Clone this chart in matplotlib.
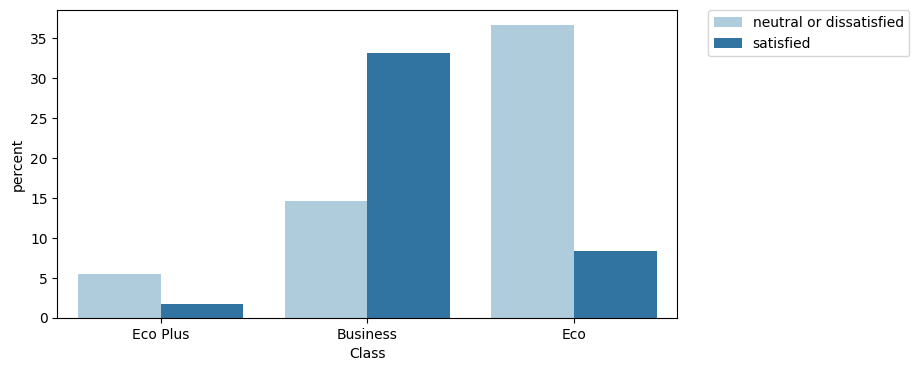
import pandas as pd
import matplotlib
matplotlib.use("Agg")
import matplotlib.pyplot as plt
import seaborn as sns

classes = ["Eco Plus", "Business", "Eco"]
neutral = [5.49, 14.59, 36.66]
satisfied = [1.75, 33.17, 8.35]

df = pd.DataFrame({
    "Class": classes * 2,
    "percent": neutral + satisfied,
    "satisfaction": ["neutral or dissatisfied"] * 3 + ["satisfied"] * 3,
})

fig = plt.figure(figsize=(9.19, 3.71), dpi=100)
ax = fig.add_axes([0.0624, 0.1429, 0.6746, 0.829])
sns.barplot(data=df, x="Class", y="percent", hue="satisfaction",
            order=classes, palette="Paired", ax=ax)
ax.set_xlabel("Class")
ax.set_ylabel("percent")
ax.legend(bbox_to_anchor=(1.05, 1), loc=2, borderaxespad=0.)
fig.savefig("out.png", dpi=100)
